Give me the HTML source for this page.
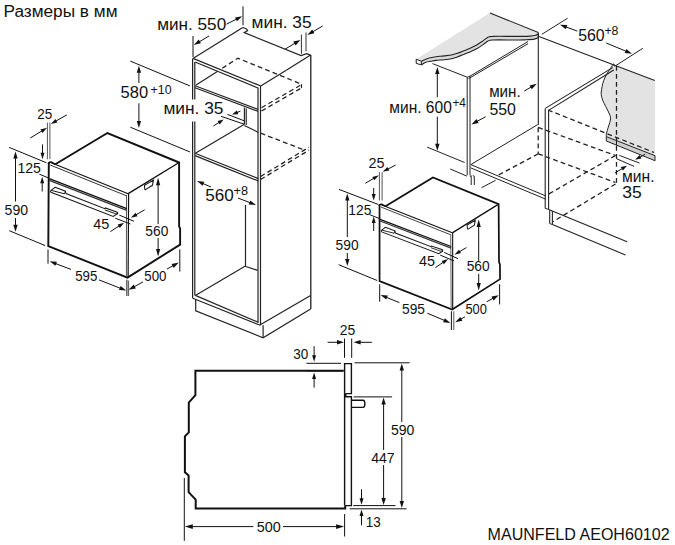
<!DOCTYPE html>
<html><head><meta charset="utf-8"><style>
html,body{margin:0;padding:0;background:#fff;width:675px;height:545px;overflow:hidden}
svg{display:block}
text{font-family:"Liberation Sans",sans-serif}
</style></head><body>
<svg width="675" height="545" viewBox="0 0 675 545">
<text x="3.5" y="17.4" font-size="16" fill="#111" textLength="114" lengthAdjust="spacingAndGlyphs">Размеры в мм</text>
<text x="487.6" y="539.6" font-size="16" fill="#111" textLength="182" lengthAdjust="spacingAndGlyphs">MAUNFELD AEOH60102</text>
<path d="M55.3,164.2 L107.4,133.0 L179.1,162.5 L179.1,226.0 L180.1,228.6 L180.1,244.6 L127.5,277.6 L48.3,246.1 L48.8,162.5" stroke="#111" stroke-width="1.9" fill="none" stroke-linejoin="miter"/>
<path d="M48.3,163.8 C48.8,162.2 50.2,161.6 51.5,162.2 L55.3,164.2" stroke="#111" stroke-width="1.6" fill="none"/>
<line x1="50.0" y1="162.2" x2="128.2" y2="193.7" stroke="#111" stroke-width="1.2"/>
<line x1="128.2" y1="193.7" x2="179.1" y2="162.5" stroke="#111" stroke-width="1.4"/>
<line x1="128.6" y1="193.7" x2="128.1" y2="277.6" stroke="#111" stroke-width="1.2"/>
<line x1="126.5" y1="195.2" x2="126.4" y2="276.4" stroke="#555" stroke-width="1.0"/>
<line x1="50.2" y1="165.0" x2="126.5" y2="195.8" stroke="#333" stroke-width="1.0"/>
<line x1="49.3" y1="178.6" x2="126.8" y2="208.6" stroke="#111" stroke-width="1.3"/>
<line x1="49.3" y1="180.4" x2="126.8" y2="210.4" stroke="#333" stroke-width="1.3"/>
<path d="M55.1,187.3 L65.4,191.2 L66,193.6 L104.8,208.7 L105.3,208 L116.7,211.9 L117.6,212.5 L117.6,213.7 L113.2,216.5 L51,192.3 C50.4,191.5 50.5,190.8 51,190.4 Z" stroke="#1a1a1a" stroke-width="1.1" fill="none"/>
<path d="M51.3,190.4 L64.6,193.8 L65.4,191.2" stroke="#1a1a1a" stroke-width="1.0" fill="none"/>
<path d="M104.9,209.9 L115.7,213.8 L117.6,212.5" stroke="#1a1a1a" stroke-width="1.0" fill="none"/>
<path d="M144.5,185.2 L153.5,180.1 L152.4,185.3 L146,189.4 C145.3,189.8 144.8,189.5 144.7,188.8 Z" stroke="#1a1a1a" stroke-width="1.1" fill="none"/>
<g transform="matrix(0.9141,-0.0044,0.006,0.9132,333.94,56.54)">
<path d="M55.3,164.2 L107.4,133.0 L179.1,162.5 L179.1,226.0 L180.1,228.6 L180.1,244.6 L127.5,277.6 L48.3,246.1 L48.8,162.5" stroke="#111" stroke-width="1.9" fill="none" stroke-linejoin="miter"/>
<path d="M48.3,163.8 C48.8,162.2 50.2,161.6 51.5,162.2 L55.3,164.2" stroke="#111" stroke-width="1.6" fill="none"/>
<line x1="50.0" y1="162.2" x2="128.2" y2="193.7" stroke="#111" stroke-width="1.2"/>
<line x1="128.2" y1="193.7" x2="179.1" y2="162.5" stroke="#111" stroke-width="1.4"/>
<line x1="128.6" y1="193.7" x2="128.1" y2="277.6" stroke="#111" stroke-width="1.2"/>
<line x1="126.5" y1="195.2" x2="126.4" y2="276.4" stroke="#555" stroke-width="1.0"/>
<line x1="50.2" y1="165.0" x2="126.5" y2="195.8" stroke="#333" stroke-width="1.0"/>
<line x1="49.3" y1="178.6" x2="126.8" y2="208.6" stroke="#111" stroke-width="1.3"/>
<line x1="49.3" y1="180.4" x2="126.8" y2="210.4" stroke="#333" stroke-width="1.3"/>
<path d="M55.1,187.3 L65.4,191.2 L66,193.6 L104.8,208.7 L105.3,208 L116.7,211.9 L117.6,212.5 L117.6,213.7 L113.2,216.5 L51,192.3 C50.4,191.5 50.5,190.8 51,190.4 Z" stroke="#1a1a1a" stroke-width="1.1" fill="none"/>
<path d="M51.3,190.4 L64.6,193.8 L65.4,191.2" stroke="#1a1a1a" stroke-width="1.0" fill="none"/>
<path d="M104.9,209.9 L115.7,213.8 L117.6,212.5" stroke="#1a1a1a" stroke-width="1.0" fill="none"/>
<path d="M144.5,185.2 L153.5,180.1 L152.4,185.3 L146,189.4 C145.3,189.8 144.8,189.5 144.7,188.8 Z" stroke="#1a1a1a" stroke-width="1.1" fill="none"/>
</g>
<line x1="47.4" y1="122.6" x2="47.4" y2="159.2" stroke="#555" stroke-width="1.0"/>
<line x1="49.9" y1="122.6" x2="49.9" y2="159.2" stroke="#555" stroke-width="1.0"/>
<line x1="30.3" y1="138.0" x2="43.7" y2="129.8" stroke="#111" stroke-width="1.0"/>
<path d="M47.0,127.8 L42.5,132.9 L40.4,129.5 Z" fill="#111"/>
<line x1="66.9" y1="114.9" x2="54.2" y2="122.0" stroke="#111" stroke-width="1.0"/>
<path d="M50.8,123.9 L55.5,119.0 L57.4,122.5 Z" fill="#111"/>
<line x1="42.5" y1="144.4" x2="42.5" y2="155.3" stroke="#111" stroke-width="1.0"/>
<path d="M42.5,159.2 L40.5,152.7 L44.5,152.7 Z" fill="#111"/>
<line x1="42.2" y1="191.5" x2="42.2" y2="180.7" stroke="#111" stroke-width="1.0"/>
<path d="M42.2,176.8 L44.2,183.3 L40.2,183.3 Z" fill="#111"/>
<line x1="39.4" y1="174.2" x2="48.6" y2="178.0" stroke="#111" stroke-width="1.0"/>
<line x1="9.2" y1="147.4" x2="46.5" y2="162.8" stroke="#111" stroke-width="1.0"/>
<line x1="15.5" y1="201.5" x2="15.5" y2="155.8" stroke="#111" stroke-width="1.0"/>
<path d="M15.5,151.6 L17.7,158.6 L13.3,158.6 Z" fill="#111"/>
<line x1="15.5" y1="218.0" x2="15.5" y2="227.6" stroke="#111" stroke-width="1.0"/>
<path d="M15.5,231.8 L13.3,224.8 L17.7,224.8 Z" fill="#111"/>
<line x1="9.3" y1="230.7" x2="45.2" y2="245.6" stroke="#111" stroke-width="1.0"/>
<line x1="119.3" y1="215.1" x2="134.0" y2="221.3" stroke="#111" stroke-width="1.0"/>
<line x1="115.3" y1="218.2" x2="130.4" y2="224.0" stroke="#111" stroke-width="1.0"/>
<line x1="144.7" y1="209.8" x2="134.3" y2="215.8" stroke="#111" stroke-width="1.0"/>
<path d="M130.9,217.8 L135.5,212.8 L137.5,216.3 Z" fill="#111"/>
<line x1="110.4" y1="231.6" x2="120.9" y2="224.8" stroke="#111" stroke-width="1.0"/>
<path d="M124.2,222.7 L119.8,227.9 L117.7,224.5 Z" fill="#111"/>
<line x1="158.1" y1="224.0" x2="158.1" y2="182.3" stroke="#111" stroke-width="1.0"/>
<path d="M158.1,177.8 L160.2,185.3 L156.0,185.3 Z" fill="#111"/>
<line x1="158.1" y1="238.0" x2="158.1" y2="252.0" stroke="#111" stroke-width="1.0"/>
<path d="M158.1,256.5 L156.0,249.0 L160.2,249.0 Z" fill="#111"/>
<line x1="48.0" y1="249.4" x2="48.0" y2="263.7" stroke="#111" stroke-width="1.0"/>
<line x1="126.9" y1="279.7" x2="126.9" y2="296.0" stroke="#111" stroke-width="1.0"/>
<line x1="128.6" y1="280.5" x2="128.6" y2="296.0" stroke="#555" stroke-width="1.0"/>
<line x1="71.0" y1="269.4" x2="53.5" y2="262.8" stroke="#111" stroke-width="1.0"/>
<path d="M49.6,261.3 L56.9,261.7 L55.4,265.8 Z" fill="#111"/>
<line x1="99.0" y1="279.9" x2="122.4" y2="289.1" stroke="#111" stroke-width="1.0"/>
<path d="M126.3,290.6 L119.0,290.1 L120.6,286.0 Z" fill="#111"/>
<line x1="179.8" y1="249.4" x2="179.8" y2="271.6" stroke="#111" stroke-width="1.0"/>
<line x1="143.0" y1="281.9" x2="132.3" y2="287.8" stroke="#111" stroke-width="1.0"/>
<path d="M128.6,289.8 L133.7,284.5 L135.8,288.4 Z" fill="#111"/>
<line x1="167.0" y1="269.0" x2="175.1" y2="264.6" stroke="#111" stroke-width="1.0"/>
<path d="M178.8,262.6 L173.7,267.9 L171.6,264.0 Z" fill="#111"/>
<text x="37.3" y="118.8" font-size="14" fill="#111" textLength="15" lengthAdjust="spacingAndGlyphs">25</text>
<text x="17.4" y="173" font-size="14" fill="#111" textLength="23.5" lengthAdjust="spacingAndGlyphs">125</text>
<text x="4.6" y="215.2" font-size="14" fill="#111" textLength="23.5" lengthAdjust="spacingAndGlyphs">590</text>
<text x="93.2" y="229.3" font-size="14" fill="#111" textLength="16" lengthAdjust="spacingAndGlyphs">45</text>
<text x="145.3" y="236.3" font-size="14" fill="#111" textLength="23" lengthAdjust="spacingAndGlyphs">560</text>
<text x="75.2" y="281" font-size="14" fill="#111" textLength="22.2" lengthAdjust="spacingAndGlyphs">595</text>
<text x="144.3" y="280.7" font-size="14" fill="#111" textLength="22.2" lengthAdjust="spacingAndGlyphs">500</text>
<line x1="379.4" y1="172.2" x2="379.4" y2="200.5" stroke="#555" stroke-width="1.0"/>
<line x1="382.1" y1="172.2" x2="382.1" y2="200.5" stroke="#555" stroke-width="1.0"/>
<line x1="365.3" y1="183.3" x2="375.5" y2="177.3" stroke="#111" stroke-width="1.0"/>
<path d="M378.9,175.3 L374.3,180.3 L372.3,176.9 Z" fill="#111"/>
<line x1="395.6" y1="165.1" x2="386.1" y2="170.0" stroke="#111" stroke-width="1.0"/>
<path d="M382.6,171.8 L387.5,167.0 L389.3,170.6 Z" fill="#111"/>
<line x1="373.7" y1="188.0" x2="373.7" y2="196.6" stroke="#111" stroke-width="1.0"/>
<path d="M373.7,200.5 L371.7,194.0 L375.7,194.0 Z" fill="#111"/>
<line x1="373.7" y1="231.0" x2="373.7" y2="220.5" stroke="#111" stroke-width="1.0"/>
<path d="M373.7,216.6 L375.7,223.1 L371.7,223.1 Z" fill="#111"/>
<line x1="369.5" y1="214.6" x2="379.5" y2="218.6" stroke="#111" stroke-width="1.0"/>
<line x1="339.0" y1="189.4" x2="378.4" y2="204.5" stroke="#111" stroke-width="1.0"/>
<line x1="347.3" y1="237.0" x2="347.3" y2="197.6" stroke="#111" stroke-width="1.0"/>
<path d="M347.3,193.4 L349.5,200.4 L345.1,200.4 Z" fill="#111"/>
<line x1="347.3" y1="253.0" x2="347.3" y2="261.8" stroke="#111" stroke-width="1.0"/>
<path d="M347.3,266.0 L345.1,259.0 L349.5,259.0 Z" fill="#111"/>
<line x1="338.7" y1="264.7" x2="377.2" y2="280.5" stroke="#111" stroke-width="1.0"/>
<line x1="444.2" y1="252.4" x2="458.0" y2="258.7" stroke="#111" stroke-width="1.0"/>
<line x1="440.2" y1="255.1" x2="454.0" y2="260.9" stroke="#111" stroke-width="1.0"/>
<line x1="466.4" y1="247.6" x2="457.8" y2="252.7" stroke="#111" stroke-width="1.0"/>
<path d="M454.4,254.7 L459.0,249.7 L461.0,253.1 Z" fill="#111"/>
<line x1="435.3" y1="267.6" x2="444.9" y2="261.2" stroke="#111" stroke-width="1.0"/>
<path d="M448.2,259.1 L443.9,264.3 L441.7,261.0 Z" fill="#111"/>
<line x1="478.7" y1="261.0" x2="478.7" y2="223.9" stroke="#111" stroke-width="1.0"/>
<path d="M478.7,219.4 L480.8,226.9 L476.6,226.9 Z" fill="#111"/>
<line x1="478.7" y1="274.0" x2="478.7" y2="286.1" stroke="#111" stroke-width="1.0"/>
<path d="M478.7,290.6 L476.6,283.1 L480.8,283.1 Z" fill="#111"/>
<line x1="379.7" y1="284.3" x2="379.7" y2="301.7" stroke="#111" stroke-width="1.0"/>
<line x1="451.4" y1="311.3" x2="451.4" y2="330.0" stroke="#111" stroke-width="1.0"/>
<line x1="453.8" y1="311.3" x2="453.8" y2="330.0" stroke="#555" stroke-width="1.0"/>
<line x1="399.4" y1="302.6" x2="384.4" y2="296.5" stroke="#111" stroke-width="1.0"/>
<path d="M380.5,294.9 L387.8,295.5 L386.2,299.6 Z" fill="#111"/>
<line x1="427.3" y1="313.2" x2="446.5" y2="321.3" stroke="#111" stroke-width="1.0"/>
<path d="M450.4,322.9 L443.1,322.2 L444.8,318.2 Z" fill="#111"/>
<line x1="499.6" y1="284.2" x2="499.6" y2="304.4" stroke="#111" stroke-width="1.0"/>
<line x1="486.8" y1="301.7" x2="495.0" y2="297.2" stroke="#111" stroke-width="1.0"/>
<path d="M498.7,295.2 L493.6,300.5 L491.5,296.6 Z" fill="#111"/>
<line x1="465.0" y1="316.8" x2="458.9" y2="320.2" stroke="#111" stroke-width="1.0"/>
<path d="M455.2,322.2 L460.3,316.9 L462.4,320.7 Z" fill="#111"/>
<text x="368.6" y="168.2" font-size="14" fill="#111" textLength="16" lengthAdjust="spacingAndGlyphs">25</text>
<text x="348.3" y="215" font-size="14" fill="#111" textLength="23" lengthAdjust="spacingAndGlyphs">125</text>
<text x="335.6" y="250.2" font-size="14" fill="#111" textLength="23" lengthAdjust="spacingAndGlyphs">590</text>
<text x="418.9" y="265.8" font-size="14" fill="#111" textLength="16" lengthAdjust="spacingAndGlyphs">45</text>
<text x="466.7" y="271.4" font-size="14" fill="#111" textLength="23" lengthAdjust="spacingAndGlyphs">560</text>
<text x="402" y="314.2" font-size="14" fill="#111" textLength="23" lengthAdjust="spacingAndGlyphs">595</text>
<text x="465.4" y="313.7" font-size="14" fill="#111" textLength="21.5" lengthAdjust="spacingAndGlyphs">500</text>
<path d="M193.0,58.4 L242.8,27.6" stroke="#222" stroke-width="1.2" fill="none" stroke-linejoin="miter"/>
<path d="M242.8,27.6 C245,27.8 247.5,29.5 247.6,30.6 L244.2,32.6 L301,55.6 L306.7,53.6 L310.6,55.1" stroke="#222" stroke-width="1.2" fill="none"/>
<line x1="310.6" y1="55.1" x2="286.3" y2="70.3" stroke="#222" stroke-width="1.2"/>
<line x1="286.3" y1="70.3" x2="260.3" y2="86.2" stroke="#222" stroke-width="1.2"/>
<line x1="193.0" y1="58.4" x2="260.3" y2="85.8" stroke="#222" stroke-width="1.2"/>
<line x1="195.0" y1="62.0" x2="258.5" y2="88.2" stroke="#222" stroke-width="1.15"/>
<line x1="192.6" y1="58.4" x2="192.6" y2="99.5" stroke="#222" stroke-width="1.2"/>
<line x1="192.6" y1="121.5" x2="192.6" y2="298.3" stroke="#222" stroke-width="1.2"/>
<line x1="194.8" y1="62.0" x2="194.8" y2="99.5" stroke="#222" stroke-width="1.2"/>
<line x1="194.8" y1="121.5" x2="194.8" y2="295.4" stroke="#222" stroke-width="1.2"/>
<line x1="258.0" y1="88.2" x2="258.0" y2="322.4" stroke="#222" stroke-width="1.2"/>
<line x1="260.5" y1="85.8" x2="260.5" y2="325.3" stroke="#222" stroke-width="1.2"/>
<line x1="310.8" y1="55.1" x2="310.8" y2="308.9" stroke="#222" stroke-width="1.3"/>
<line x1="195.0" y1="85.7" x2="258.0" y2="109.4" stroke="#222" stroke-width="1.15"/>
<line x1="195.0" y1="87.7" x2="258.0" y2="111.3" stroke="#222" stroke-width="1.15"/>
<line x1="196.1" y1="85.1" x2="217.3" y2="71.4" stroke="#222" stroke-width="1.15"/>
<path d="M222.3,68.2 L237.9,58.2 L301.5,84.2" stroke="#222" stroke-width="1.3" fill="none" stroke-linejoin="miter" stroke-dasharray="4.8,3.2"/>
<path d="M261.5,107.7 L301.5,84.6" stroke="#222" stroke-width="1.3" fill="none" stroke-linejoin="miter" stroke-dasharray="4.8,3.2"/>
<path d="M261.5,111.0 L301.5,87.9" stroke="#222" stroke-width="1.3" fill="none" stroke-linejoin="miter" stroke-dasharray="4.8,3.2"/>
<line x1="301.5" y1="84.2" x2="301.5" y2="88.0" stroke="#222" stroke-width="1.15"/>
<line x1="244.4" y1="107.6" x2="244.4" y2="124.2" stroke="#222" stroke-width="1.15"/>
<line x1="246.2" y1="108.4" x2="246.2" y2="125.0" stroke="#222" stroke-width="1.15"/>
<line x1="244.4" y1="124.2" x2="195.4" y2="153.2" stroke="#222" stroke-width="1.15"/>
<line x1="244.4" y1="125.4" x2="258.4" y2="132.4" stroke="#222" stroke-width="1.15"/>
<line x1="195.0" y1="153.2" x2="258.4" y2="178.6" stroke="#222" stroke-width="1.15"/>
<line x1="195.0" y1="155.6" x2="258.4" y2="181.0" stroke="#222" stroke-width="1.15"/>
<path d="M260.6,133.2 L304.6,150.1" stroke="#222" stroke-width="1.3" fill="none" stroke-linejoin="miter" stroke-dasharray="4.8,3.2"/>
<path d="M260.6,176.5 L309.0,147.2" stroke="#222" stroke-width="1.3" fill="none" stroke-linejoin="miter" stroke-dasharray="4.8,3.2"/>
<path d="M260.6,179.5 L309.0,150.1" stroke="#222" stroke-width="1.3" fill="none" stroke-linejoin="miter" stroke-dasharray="4.8,3.2"/>
<line x1="245.5" y1="205.0" x2="245.5" y2="266.3" stroke="#222" stroke-width="1.2"/>
<line x1="245.0" y1="266.3" x2="257.7" y2="270.4" stroke="#222" stroke-width="1.15"/>
<line x1="195.3" y1="295.4" x2="245.0" y2="266.3" stroke="#222" stroke-width="1.15"/>
<line x1="192.8" y1="298.3" x2="260.3" y2="325.3" stroke="#222" stroke-width="1.2"/>
<line x1="195.3" y1="295.4" x2="258.5" y2="322.4" stroke="#222" stroke-width="1.15"/>
<line x1="260.3" y1="324.8" x2="310.6" y2="295.4" stroke="#222" stroke-width="1.2"/>
<path d="M195.7,299.2 L195.7,310.8 L263.1,337.8 L310.6,308.9" stroke="#222" stroke-width="1.2" fill="none" stroke-linejoin="miter"/>
<line x1="263.1" y1="325.3" x2="263.1" y2="337.8" stroke="#222" stroke-width="1.2"/>
<line x1="193.0" y1="36.0" x2="193.0" y2="57.0" stroke="#111" stroke-width="1.0"/>
<line x1="243.0" y1="6.3" x2="243.0" y2="25.3" stroke="#111" stroke-width="1.0"/>
<line x1="209.0" y1="36.0" x2="197.4" y2="42.9" stroke="#111" stroke-width="1.0"/>
<path d="M193.8,45.0 L198.7,39.5 L200.9,43.3 Z" fill="#111"/>
<line x1="226.5" y1="24.2" x2="238.5" y2="18.1" stroke="#111" stroke-width="1.0"/>
<path d="M242.2,16.2 L237.0,21.3 L235.0,17.4 Z" fill="#111"/>
<text x="157.2" y="30.2" font-size="16" fill="#111" textLength="69" lengthAdjust="spacingAndGlyphs">мин. 550</text>
<line x1="301.4" y1="34.6" x2="301.4" y2="53.9" stroke="#333" stroke-width="1.0"/>
<line x1="306.0" y1="32.4" x2="306.0" y2="51.3" stroke="#333" stroke-width="1.0"/>
<line x1="284.9" y1="49.3" x2="296.8" y2="42.1" stroke="#111" stroke-width="1.0"/>
<path d="M300.4,39.9 L295.6,45.4 L293.3,41.6 Z" fill="#111"/>
<line x1="322.6" y1="26.0" x2="310.9" y2="32.9" stroke="#111" stroke-width="1.0"/>
<path d="M307.3,35.0 L312.2,29.6 L314.4,33.3 Z" fill="#111"/>
<text x="251.6" y="28.1" font-size="16" fill="#111" textLength="60" lengthAdjust="spacingAndGlyphs">мин. 35</text>
<line x1="130.3" y1="61.1" x2="189.9" y2="85.9" stroke="#111" stroke-width="1.0"/>
<line x1="130.3" y1="127.2" x2="190.0" y2="152.0" stroke="#111" stroke-width="1.0"/>
<line x1="138.9" y1="83.0" x2="138.9" y2="69.9" stroke="#111" stroke-width="1.0"/>
<path d="M138.9,65.7 L141.1,72.7 L136.7,72.7 Z" fill="#111"/>
<line x1="138.9" y1="103.3" x2="138.9" y2="123.9" stroke="#111" stroke-width="1.0"/>
<path d="M138.9,128.1 L136.7,121.1 L141.1,121.1 Z" fill="#111"/>
<text x="120.6" y="98.3" font-size="16" fill="#111" textLength="27.5" lengthAdjust="spacingAndGlyphs">580</text>
<text x="150.6" y="94" font-size="12" fill="#111" textLength="21" lengthAdjust="spacingAndGlyphs">+10</text>
<rect x="163" y="100" width="60" height="21" fill="#fff"/>
<text x="163.4" y="113.8" font-size="16" fill="#111" textLength="60" lengthAdjust="spacingAndGlyphs">мин. 35</text>
<line x1="221.0" y1="116.3" x2="244.2" y2="124.2" stroke="#111" stroke-width="1.0"/>
<line x1="227.5" y1="114.4" x2="244.2" y2="120.8" stroke="#111" stroke-width="1.0"/>
<line x1="240.4" y1="111.2" x2="235.3" y2="113.2" stroke="#111" stroke-width="1.0"/>
<path d="M232.0,114.6 L236.8,110.5 L238.3,114.2 Z" fill="#111"/>
<line x1="213.4" y1="126.0" x2="220.7" y2="121.4" stroke="#111" stroke-width="1.0"/>
<path d="M223.7,119.5 L219.7,124.4 L217.6,121.0 Z" fill="#111"/>
<line x1="211.0" y1="187.0" x2="200.9" y2="182.7" stroke="#111" stroke-width="1.0"/>
<path d="M197.0,181.0 L204.3,181.7 L202.6,185.8 Z" fill="#111"/>
<line x1="238.0" y1="198.0" x2="252.1" y2="203.5" stroke="#111" stroke-width="1.0"/>
<path d="M256.0,205.0 L248.7,204.5 L250.3,200.4 Z" fill="#111"/>
<text x="205.2" y="201" font-size="16" fill="#111" textLength="28.5" lengthAdjust="spacingAndGlyphs">560</text>
<text x="233.6" y="195" font-size="12" fill="#111" textLength="14.5" lengthAdjust="spacingAndGlyphs">+8</text>
<path d="M613.7,64.7 L655,81 L655,155.7 L606.3,136.6 L606.3,136.6 C606.3,136.1 606.2,134.3 606.4,133.3 C606.6,132.3 607.0,131.5 607.3,130.5 C607.6,129.5 607.9,128.4 608.3,127.1 C608.7,125.8 609.4,124.0 609.8,122.4 C610.2,120.8 610.7,119.3 610.6,117.7 C610.5,116.1 609.8,114.8 609.0,113.0 C608.2,111.2 606.9,108.9 605.9,106.8 C604.9,104.7 603.6,102.7 602.8,100.6 C602.0,98.5 601.4,96.1 601.2,94.3 C601.0,92.5 601.3,91.4 601.6,89.6 C601.9,87.8 602.2,85.5 602.8,83.4 C603.4,81.3 604.2,79.2 605.1,77.2 C606.0,75.2 607.2,73.4 608.3,71.7 C609.3,70.0 610.5,68.2 611.4,67.0 C612.3,65.8 613.3,65.1 613.7,64.7 Z" stroke="none" stroke-width="0" fill="#e3e3e3"/>
<path d="M416.2,59.2 L490,12.8 L538.3,33.3 L538.3,33.9 C537.8,34.1 537.0,34.9 535.6,35.3 C534.2,35.7 533.6,35.9 530.0,36.1 C526.4,36.3 520.2,36.4 514.0,36.4 C507.8,36.4 496.8,36.2 492.5,36.4 C488.2,36.5 489.5,36.6 488.0,37.3 C486.5,38.0 485.2,39.3 483.3,40.6 C481.4,41.9 478.9,43.7 476.7,45.0 C474.5,46.3 472.1,47.3 470.0,48.3 C467.9,49.3 466.1,49.9 463.9,50.8 C461.7,51.7 458.8,52.9 456.7,53.6 C454.6,54.3 453.6,54.6 451.5,55.0 C449.4,55.4 446.8,55.6 444.2,55.9 C441.6,56.2 438.4,56.4 435.9,56.7 C433.4,57.1 431.1,57.5 429.2,58.0 C427.3,58.5 425.8,59.2 424.5,59.8 C423.2,60.3 421.9,61.0 421.4,61.3 Z" stroke="none" stroke-width="0" fill="#e3e3e3"/>
<path d="M538.3,33.9 C537.8,34.1 537.0,34.9 535.6,35.3 C534.2,35.7 533.6,35.9 530.0,36.1 C526.4,36.3 520.2,36.4 514.0,36.4 C507.8,36.4 496.8,36.2 492.5,36.4 C488.2,36.5 489.5,36.6 488.0,37.3 C486.5,38.0 485.2,39.3 483.3,40.6 C481.4,41.9 478.9,43.7 476.7,45.0 C474.5,46.3 472.1,47.3 470.0,48.3 C467.9,49.3 466.1,49.9 463.9,50.8 C461.7,51.7 458.8,52.9 456.7,53.6 C454.6,54.3 453.6,54.6 451.5,55.0 C449.4,55.4 446.8,55.6 444.2,55.9 C441.6,56.2 438.4,56.4 435.9,56.7 C433.4,57.1 431.1,57.5 429.2,58.0 C427.3,58.5 425.8,59.2 424.5,59.8 C423.2,60.3 421.9,61.0 421.4,61.3 L421.4,64.9 C422.1,64.5 424.1,62.9 425.6,62.3 C427.2,61.7 429.0,61.6 430.7,61.3 C432.4,61.0 433.6,60.7 435.9,60.4 C438.1,60.1 441.6,60.0 444.2,59.7 C446.8,59.4 449.4,59.1 451.5,58.7 C453.6,58.3 454.6,57.9 456.7,57.2 C458.8,56.5 461.7,55.3 463.9,54.4 C466.1,53.5 467.9,52.9 470.0,52.0 C472.1,51.1 474.5,50.1 476.7,48.8 C478.9,47.5 481.4,45.7 483.3,44.4 C485.2,43.1 486.5,41.8 488.0,41.1 C489.5,40.4 488.2,40.2 492.5,40.0 C496.8,39.8 508.5,40.0 514.0,40.0 C519.5,40.0 522.2,39.9 525.6,39.8 C529.0,39.6 532.3,39.4 534.4,39.1 C536.5,38.8 537.6,38.0 538.3,37.8 Z" stroke="none" stroke-width="0" fill="#d9d9d9"/>
<path d="M538.3,33.9 C537.8,34.1 537.0,34.9 535.6,35.3 C534.2,35.7 533.6,35.9 530.0,36.1 C526.4,36.3 520.2,36.4 514.0,36.4 C507.8,36.4 496.8,36.2 492.5,36.4 C488.2,36.5 489.5,36.6 488.0,37.3 C486.5,38.0 485.2,39.3 483.3,40.6 C481.4,41.9 478.9,43.7 476.7,45.0 C474.5,46.3 472.1,47.3 470.0,48.3 C467.9,49.3 466.1,49.9 463.9,50.8 C461.7,51.7 458.8,52.9 456.7,53.6 C454.6,54.3 453.6,54.6 451.5,55.0 C449.4,55.4 446.8,55.6 444.2,55.9 C441.6,56.2 438.4,56.4 435.9,56.7 C433.4,57.1 431.1,57.5 429.2,58.0 C427.3,58.5 425.8,59.2 424.5,59.8 C423.2,60.3 421.9,61.0 421.4,61.3" stroke="#222" stroke-width="1.1" fill="none"/>
<path d="M538.3,37.8 C537.6,38.0 536.5,38.8 534.4,39.1 C532.3,39.4 529.0,39.6 525.6,39.8 C522.2,39.9 519.5,40.0 514.0,40.0 C508.5,40.0 496.8,39.8 492.5,40.0 C488.2,40.2 489.5,40.4 488.0,41.1 C486.5,41.8 485.2,43.1 483.3,44.4 C481.4,45.7 478.9,47.5 476.7,48.8 C474.5,50.1 472.1,51.1 470.0,52.0 C467.9,52.9 466.1,53.5 463.9,54.4 C461.7,55.3 458.8,56.5 456.7,57.2 C454.6,57.9 453.6,58.3 451.5,58.7 C449.4,59.1 446.8,59.4 444.2,59.7 C441.6,60.0 438.1,60.1 435.9,60.4 C433.6,60.7 432.4,61.0 430.7,61.3 C429.0,61.6 427.2,61.7 425.6,62.3 C424.1,62.9 422.1,64.5 421.4,64.9" stroke="#222" stroke-width="1.1" fill="none"/>
<path d="M416.2,59.2 L421.4,61.3 L421.4,64.9 L416.2,63.4 Z" stroke="#222" stroke-width="1.0" fill="#f4f4f4"/>
<line x1="538.3" y1="33.3" x2="538.3" y2="37.8" stroke="#222" stroke-width="1.0"/>
<line x1="490.0" y1="13.0" x2="538.3" y2="32.5" stroke="#222" stroke-width="1.1"/>
<line x1="538.3" y1="36.3" x2="654.8" y2="80.6" stroke="#222" stroke-width="1.1"/>
<line x1="538.3" y1="32.5" x2="538.3" y2="125.0" stroke="#222" stroke-width="1.1"/>
<line x1="432.5" y1="63.6" x2="467.2" y2="77.2" stroke="#222" stroke-width="1.0"/>
<line x1="467.2" y1="77.2" x2="467.2" y2="175.3" stroke="#222" stroke-width="1.0"/>
<line x1="470.0" y1="76.2" x2="470.0" y2="175.3" stroke="#222" stroke-width="1.0"/>
<line x1="470.0" y1="76.2" x2="528.0" y2="41.5" stroke="#222" stroke-width="1.0"/>
<line x1="468.5" y1="78.7" x2="528.0" y2="43.7" stroke="#222" stroke-width="1.0"/>
<line x1="467.2" y1="77.2" x2="470.0" y2="76.2" stroke="#222" stroke-width="1.0"/>
<path d="M469.8,176.6 L471.2,175.6 L471.2,185.0" stroke="#222" stroke-width="1.0" fill="none" stroke-linejoin="miter"/>
<path d="M472.8,175.6 L474.3,176.2 L474.3,185.0" stroke="#222" stroke-width="1.0" fill="none" stroke-linejoin="miter"/>
<line x1="470.8" y1="164.6" x2="546.0" y2="196.0" stroke="#222" stroke-width="1.0"/>
<line x1="470.8" y1="167.9" x2="546.0" y2="199.3" stroke="#222" stroke-width="1.0"/>
<line x1="470.8" y1="164.6" x2="537.7" y2="124.6" stroke="#222" stroke-width="1.0"/>
<line x1="495.6" y1="180.3" x2="481.5" y2="187.7" stroke="#222" stroke-width="1.0"/>
<path d="M538.2,127.4 L538.2,153.8" stroke="#222" stroke-width="1.3" fill="none" stroke-linejoin="miter" stroke-dasharray="4.8,3.2"/>
<path d="M538.2,153.8 L497.5,175.6" stroke="#222" stroke-width="1.3" fill="none" stroke-linejoin="miter" stroke-dasharray="4.8,3.2"/>
<path d="M538.2,127.4 L615.5,155.5" stroke="#222" stroke-width="1.3" fill="none" stroke-linejoin="miter" stroke-dasharray="4.8,3.2"/>
<path d="M538.2,153.8 L615.5,182.5" stroke="#222" stroke-width="1.3" fill="none" stroke-linejoin="miter" stroke-dasharray="4.8,3.2"/>
<path d="M548.0,110.0 L654.0,152.5" stroke="#222" stroke-width="1.3" fill="none" stroke-linejoin="miter" stroke-dasharray="4.8,3.2"/>
<path d="M615.5,155.5 L548.0,194.5" stroke="#222" stroke-width="1.3" fill="none" stroke-linejoin="miter" stroke-dasharray="4.8,3.2"/>
<path d="M615.5,184.0 L553.0,221.7" stroke="#222" stroke-width="1.3" fill="none" stroke-linejoin="miter" stroke-dasharray="4.8,3.2"/>
<path d="M616.5,66.0 L616.5,184.0" stroke="#222" stroke-width="1.3" fill="none" stroke-linejoin="miter" stroke-dasharray="4.8,3.2"/>
<line x1="545.2" y1="108.4" x2="545.2" y2="208.4" stroke="#222" stroke-width="1.1"/>
<line x1="548.6" y1="110.4" x2="548.6" y2="209.4" stroke="#222" stroke-width="1.1"/>
<line x1="545.2" y1="108.4" x2="612.7" y2="67.6" stroke="#222" stroke-width="1.1"/>
<line x1="548.6" y1="110.4" x2="613.8" y2="70.0" stroke="#222" stroke-width="1.1"/>
<line x1="545.2" y1="208.4" x2="548.6" y2="209.4" stroke="#222" stroke-width="1.0"/>
<line x1="549.7" y1="210.3" x2="549.7" y2="223.6" stroke="#222" stroke-width="1.1"/>
<line x1="552.4" y1="211.3" x2="552.4" y2="224.5" stroke="#222" stroke-width="1.1"/>
<line x1="548.6" y1="209.4" x2="627.1" y2="241.8" stroke="#222" stroke-width="1.1"/>
<line x1="549.7" y1="223.6" x2="552.4" y2="224.5" stroke="#222" stroke-width="1.0"/>
<line x1="552.4" y1="224.5" x2="625.5" y2="255.1" stroke="#222" stroke-width="1.1"/>
<path d="M613.7,64.7 C613.3,65.1 612.3,65.8 611.4,67.0 C610.5,68.2 609.3,70.0 608.3,71.7 C607.2,73.4 606.0,75.2 605.1,77.2 C604.2,79.2 603.4,81.3 602.8,83.4 C602.2,85.5 601.9,87.8 601.6,89.6 C601.3,91.4 601.0,92.5 601.2,94.3 C601.4,96.1 602.0,98.5 602.8,100.6 C603.6,102.7 604.9,104.7 605.9,106.8 C606.9,108.9 608.2,111.2 609.0,113.0 C609.8,114.8 610.5,116.1 610.6,117.7 C610.7,119.3 610.2,120.8 609.8,122.4 C609.4,124.0 608.7,125.8 608.3,127.1 C607.9,128.4 607.6,129.5 607.3,130.5 C607.0,131.5 606.6,132.3 606.4,133.3 C606.2,134.3 606.3,136.1 606.3,136.6" stroke="#222" stroke-width="1.0" fill="none"/>
<path d="M611.6,65.2 L613.7,63.9 L614.6,66.4" stroke="#222" stroke-width="1.0" fill="none"/>
<path d="M606.3,136.6 L655,155.7 L655,160.7 L606.3,141 Z" stroke="#222" stroke-width="1.0" fill="#cfcfcf"/>
<line x1="616.5" y1="140.8" x2="616.5" y2="145.5" stroke="#222" stroke-width="1.0"/>
<line x1="437.3" y1="97.3" x2="437.3" y2="71.3" stroke="#111" stroke-width="1.0"/>
<path d="M437.3,67.1 L439.5,74.1 L435.1,74.1 Z" fill="#111"/>
<line x1="437.3" y1="116.7" x2="437.3" y2="146.6" stroke="#111" stroke-width="1.0"/>
<path d="M437.3,150.8 L435.1,143.8 L439.5,143.8 Z" fill="#111"/>
<line x1="427.1" y1="147.1" x2="464.6" y2="162.5" stroke="#222" stroke-width="1.0"/>
<line x1="450.2" y1="169.0" x2="466.8" y2="176.1" stroke="#222" stroke-width="1.0"/>
<text x="389.3" y="112.7" font-size="16" fill="#111" textLength="62.5" lengthAdjust="spacingAndGlyphs">мин. 600</text>
<text x="452.4" y="106.7" font-size="12" fill="#111" textLength="13.5" lengthAdjust="spacingAndGlyphs">+4</text>
<text x="489.2" y="97.3" font-size="16" fill="#111" textLength="31.5" lengthAdjust="spacingAndGlyphs">мин.</text>
<text x="489.4" y="114.8" font-size="16" fill="#111" textLength="26.5" lengthAdjust="spacingAndGlyphs">550</text>
<line x1="485.7" y1="116.7" x2="475.1" y2="122.4" stroke="#111" stroke-width="1.0"/>
<path d="M471.4,124.4 L476.5,119.1 L478.6,123.0 Z" fill="#111"/>
<line x1="524.3" y1="91.0" x2="533.2" y2="85.9" stroke="#111" stroke-width="1.0"/>
<path d="M536.8,83.8 L531.8,89.2 L529.6,85.4 Z" fill="#111"/>
<line x1="541.8" y1="34.3" x2="567.6" y2="18.2" stroke="#222" stroke-width="1.0"/>
<line x1="616.0" y1="65.5" x2="642.8" y2="48.3" stroke="#222" stroke-width="1.0"/>
<line x1="577.3" y1="31.1" x2="563.9" y2="26.2" stroke="#111" stroke-width="1.0"/>
<path d="M560.0,24.7 L567.3,25.1 L565.8,29.2 Z" fill="#111"/>
<line x1="606.3" y1="43.0" x2="628.1" y2="52.1" stroke="#111" stroke-width="1.0"/>
<path d="M632.0,53.7 L624.7,53.0 L626.4,49.0 Z" fill="#111"/>
<text x="578.2" y="40.8" font-size="16" fill="#111" textLength="26.5" lengthAdjust="spacingAndGlyphs">560</text>
<text x="604.4" y="35.4" font-size="12" fill="#111" textLength="14" lengthAdjust="spacingAndGlyphs">+8</text>
<line x1="619.3" y1="155.4" x2="639.6" y2="163.1" stroke="#222" stroke-width="1.0"/>
<line x1="616.5" y1="158.7" x2="634.1" y2="166.4" stroke="#222" stroke-width="1.0"/>
<line x1="645.1" y1="154.3" x2="638.3" y2="158.1" stroke="#111" stroke-width="1.0"/>
<path d="M635.2,159.8 L639.5,155.1 L641.4,158.6 Z" fill="#111"/>
<line x1="614.9" y1="173.0" x2="623.9" y2="167.6" stroke="#111" stroke-width="1.0"/>
<path d="M627.0,165.8 L622.9,170.6 L620.8,167.1 Z" fill="#111"/>
<text x="622" y="182.3" font-size="16" fill="#111" textLength="32.5" lengthAdjust="spacingAndGlyphs">мин.</text>
<text x="622.2" y="198" font-size="16" fill="#111" textLength="19.5" lengthAdjust="spacingAndGlyphs">35</text>
<path d="M343.8,370.7 L195.4,370.7 L195.4,395.2 L188.8,402.7 L188.8,432.4 L184.9,436.3 L184.9,472.2 L188.6,475.4 L188.6,492.2 L195.7,499.6 L195.7,508.6 L345.2,508.6 L345.2,505.6" stroke="#111" stroke-width="2.0" fill="none"/>
<path d="M344.6,370.7 L344.6,363.6 L351.4,363.6 L351.4,393.6 L345.8,393.6 M345.8,393.6 L345.8,396.8 L351.4,396.8 L351.4,505.6 L345.2,505.6 M344.6,370.7 L344.6,505.6" stroke="#111" stroke-width="1.4" fill="none"/>
<path d="M351.4,400.2 L363,400.2 C365.5,400.2 365.5,407.4 363,407.4 L351.4,407.4" stroke="#111" stroke-width="1.4" fill="none"/>
<line x1="306.4" y1="363.3" x2="341.0" y2="363.3" stroke="#111" stroke-width="1.0"/>
<line x1="306.4" y1="370.9" x2="343.0" y2="370.9" stroke="#111" stroke-width="1.0"/>
<line x1="314.1" y1="346.2" x2="314.1" y2="357.9" stroke="#111" stroke-width="1.0"/>
<path d="M314.1,361.8 L312.1,355.3 L316.1,355.3 Z" fill="#111"/>
<line x1="314.1" y1="387.6" x2="314.1" y2="376.3" stroke="#111" stroke-width="1.0"/>
<path d="M314.1,372.4 L316.1,378.9 L312.1,378.9 Z" fill="#111"/>
<text x="293.2" y="358.7" font-size="14" fill="#111" textLength="15" lengthAdjust="spacingAndGlyphs">30</text>
<line x1="344.5" y1="338.5" x2="344.5" y2="357.8" stroke="#111" stroke-width="1.0"/>
<line x1="351.7" y1="338.5" x2="351.7" y2="357.8" stroke="#111" stroke-width="1.0"/>
<line x1="327.6" y1="342.3" x2="339.8" y2="342.3" stroke="#111" stroke-width="1.0"/>
<path d="M344.0,342.3 L337.0,344.5 L337.0,340.1 Z" fill="#111"/>
<line x1="371.9" y1="342.3" x2="357.8" y2="342.3" stroke="#111" stroke-width="1.0"/>
<path d="M353.6,342.3 L360.6,340.1 L360.6,344.5 Z" fill="#111"/>
<text x="339.7" y="334.6" font-size="14" fill="#111" textLength="15.5" lengthAdjust="spacingAndGlyphs">25</text>
<line x1="354.5" y1="362.8" x2="409.5" y2="362.8" stroke="#111" stroke-width="1.0"/>
<line x1="401.8" y1="422.0" x2="401.8" y2="367.7" stroke="#111" stroke-width="1.0"/>
<path d="M401.8,363.5 L404.0,370.5 L399.6,370.5 Z" fill="#111"/>
<line x1="401.8" y1="437.0" x2="401.8" y2="503.8" stroke="#111" stroke-width="1.0"/>
<path d="M401.8,508.0 L399.6,501.0 L404.0,501.0 Z" fill="#111"/>
<line x1="349.6" y1="508.8" x2="406.6" y2="508.8" stroke="#111" stroke-width="1.0"/>
<text x="390.9" y="434.8" font-size="14" fill="#111" textLength="23.5" lengthAdjust="spacingAndGlyphs">590</text>
<line x1="353.6" y1="396.9" x2="392.1" y2="396.9" stroke="#111" stroke-width="1.0"/>
<line x1="383.6" y1="450.0" x2="383.6" y2="401.6" stroke="#111" stroke-width="1.0"/>
<path d="M383.6,397.4 L385.8,404.4 L381.4,404.4 Z" fill="#111"/>
<line x1="383.6" y1="465.0" x2="383.6" y2="500.8" stroke="#111" stroke-width="1.0"/>
<path d="M383.6,505.0 L381.4,498.0 L385.8,498.0 Z" fill="#111"/>
<line x1="353.3" y1="505.6" x2="395.5" y2="505.6" stroke="#111" stroke-width="1.0"/>
<text x="371.2" y="463.3" font-size="14" fill="#111" textLength="23.5" lengthAdjust="spacingAndGlyphs">447</text>
<line x1="361.5" y1="489.3" x2="361.5" y2="500.9" stroke="#111" stroke-width="1.0"/>
<path d="M361.5,504.8 L359.5,498.3 L363.5,498.3 Z" fill="#111"/>
<line x1="361.5" y1="525.3" x2="361.5" y2="513.3" stroke="#111" stroke-width="1.0"/>
<path d="M361.5,509.4 L363.5,515.9 L359.5,515.9 Z" fill="#111"/>
<text x="365.8" y="526.5" font-size="14" fill="#111" textLength="15" lengthAdjust="spacingAndGlyphs">13</text>
<line x1="184.3" y1="478.0" x2="184.3" y2="540.8" stroke="#111" stroke-width="1.0"/>
<line x1="344.6" y1="514.0" x2="344.6" y2="536.5" stroke="#111" stroke-width="1.0"/>
<line x1="253.3" y1="526.6" x2="189.6" y2="526.6" stroke="#111" stroke-width="1.0"/>
<path d="M184.8,526.6 L192.8,524.2 L192.8,529.0 Z" fill="#111"/>
<line x1="283.0" y1="526.6" x2="339.3" y2="526.6" stroke="#111" stroke-width="1.0"/>
<path d="M344.1,526.6 L336.1,529.0 L336.1,524.2 Z" fill="#111"/>
<text x="256.8" y="532" font-size="14" fill="#111" textLength="24" lengthAdjust="spacingAndGlyphs">500</text>
</svg>
</body></html>
